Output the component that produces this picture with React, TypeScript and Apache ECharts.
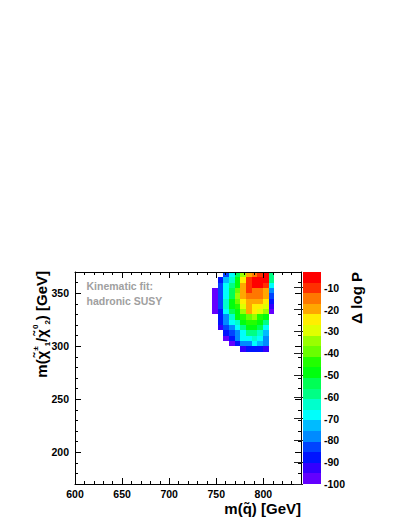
import React, { useEffect, useRef } from 'react';
import * as echarts from 'echarts';

// ---- data ----
const xCenters = [748.5, 754.5, 760.5, 766.5, 772.5, 778.5, 784.5, 790.5, 796.5, 802.5, 808.5];
const yCenters = [367.5, 362.5, 357.5, 352.5, 347.5, 342.5, 337.5, 332.5, 327.5, 322.5, 317.5, 312.5, 307.5, 302.5, 297.5];
const N = null;
const deltaLogP: (number | null)[][] = [
  [N, N, -83, -66, -52, -34, -20, -14, -9, -5, -60],
  [N, -86, -74, -63, -50, -25, -11, -6, -4, -7, -61],
  [N, -84, -69, -60, -47, -20, -10, -6, -5, -11, -68],
  [-97, -82, -66, -54, -40, -19, -12, -13, -15, -18, -77],
  [-96, -83, -67, -52, -35, -19, -15, -16, -17, -20, -84],
  [-97, -84, -64, -50, -40, -24, -18, -19, -20, -25, -87],
  [-97, -85, -64, -49, -44, -30, -21, -24, -25, -28, -92],
  [-98, -86, -70, -55, -48, -33, -22, -26, -31, -36, -97],
  [N, -87, -76, -63, -50, -45, -38, -36, -44, -47, N],
  [N, -90, -79, -68, -62, -49, -46, -45, -48, -60, N],
  [N, -94, -84, -76, -67, -60, -50, -49, -52, -68, N],
  [N, N, -87, -82, -76, -66, -60, -57, -62, -73, N],
  [N, N, -96, -88, -78, -70, -67, -64, -69, -77, N],
  [N, N, N, -96, -88, -80, -76, -70, -72, -80, N],
  [N, N, N, N, N, -95, -90, -88, -89, -94, N],
];

const xMajorTicks = [600, 650, 700, 750, 800];
const yMajorTicks = [200, 250, 300, 350];
const zTicks = [-100, -90, -80, -70, -60, -50, -40, -30, -20, -10];

// palette (ROOT rainbow, 20 contour levels)
const palette = [
  '#6300ff', '#3300ff', '#0014ff', '#0044ff', '#008bff', '#00bbff', '#00fffc', '#00ffcc', '#00ff85', '#00ff55',
  '#00ff0e', '#22ff00', '#69ff00', '#99ff00', '#e0ff00', '#ffee00', '#ffa700', '#ff7700', '#ff3000', '#ff0000',
];
const Z_MIN = -100;
const Z_MAX = -2.8;

const XBIN = 6;
const YBIN = 5;

const FONT = 'Liberation Sans';

export default function App() {
  const ref = useRef<HTMLDivElement>(null);
  useEffect(() => {
    if (!ref.current) return;
    const chart = echarts.init(ref.current, undefined, { renderer: 'svg' });

    const step = (Z_MAX - Z_MIN) / palette.length;
    const bands = palette.map((c, i) => [Z_MIN + i * step, Z_MIN + (i + 1) * step, i]);
    const pieces = bands.map((b, i) => ({
      gte: b[0],
      lt: i === bands.length - 1 ? b[1] + 1 : b[1],
      color: palette[i],
    }));

    const cells: number[][] = [];
    deltaLogP.forEach((row, r) => {
      row.forEach((v, c) => {
        if (v !== null) cells.push([xCenters[c], yCenters[r], v]);
      });
    });

    const tickStyle = { color: '#000', width: 1 };
    const gridRect = { left: 75, top: 272, width: 226, height: 212 };

    const lbl = { fontFamily: FONT, fontWeight: 'bold' as const, fontSize: 10.5, color: '#000' };

    const option: any = {
      animation: false,
      textStyle: { fontFamily: FONT },
      grid: [
        { ...gridRect, show: false },
        { ...gridRect, show: false },
        { left: 303, top: 272, width: 18, height: 212, show: false },
      ],
      xAxis: [
        {
          type: 'value', gridIndex: 0, position: 'bottom', min: 600, max: 840, z: 10,
          axisLine: { show: true, lineStyle: tickStyle },
          axisTick: { show: true, inside: true, length: 6, customValues: xMajorTicks, lineStyle: tickStyle },
          axisLabel: { ...lbl, customValues: xMajorTicks, margin: 4 },
          splitLine: { show: false },
        },
        {
          type: 'value', gridIndex: 0, position: 'top', min: 600, max: 840, z: 10,
          axisLine: { show: true, lineStyle: tickStyle },
          axisTick: { show: true, inside: true, length: 6, customValues: xMajorTicks, lineStyle: tickStyle },
          axisLabel: { show: false },
          splitLine: { show: false },
        },
        {
          type: 'value', gridIndex: 1, position: 'bottom', min: 600, max: 840, interval: 10, z: 10,
          axisLine: { show: false },
          axisTick: { show: true, inside: true, length: 3, lineStyle: tickStyle },
          axisLabel: { show: false },
          splitLine: { show: false },
        },
        {
          type: 'value', gridIndex: 1, position: 'top', min: 600, max: 840, interval: 10, z: 10,
          axisLine: { show: false },
          axisTick: { show: true, inside: true, length: 3, lineStyle: tickStyle },
          axisLabel: { show: false },
          splitLine: { show: false },
        },
        {
          type: 'value', gridIndex: 2, min: 0, max: 1, show: false,
        },
      ],
      yAxis: [
        {
          type: 'value', gridIndex: 0, position: 'left', min: 170, max: 370, z: 10,
          axisLine: { show: true, lineStyle: tickStyle },
          axisTick: { show: true, inside: true, length: 6, customValues: yMajorTicks, lineStyle: tickStyle },
          axisLabel: { ...lbl, customValues: yMajorTicks, margin: 6 },
          splitLine: { show: false },
        },
        {
          type: 'value', gridIndex: 0, position: 'right', min: 170, max: 370, z: 10,
          axisLine: { show: true, lineStyle: tickStyle },
          axisTick: { show: true, inside: true, length: 6, customValues: yMajorTicks, lineStyle: tickStyle },
          axisLabel: { show: false },
          splitLine: { show: false },
        },
        {
          type: 'value', gridIndex: 1, position: 'left', min: 170, max: 370, interval: 10, z: 10,
          axisLine: { show: false },
          axisTick: { show: true, inside: true, length: 3, lineStyle: tickStyle },
          axisLabel: { show: false },
          splitLine: { show: false },
        },
        {
          type: 'value', gridIndex: 1, position: 'right', min: 170, max: 370, interval: 10, z: 10,
          axisLine: { show: false },
          axisTick: { show: true, inside: true, length: 3, lineStyle: tickStyle },
          axisLabel: { show: false },
          splitLine: { show: false },
        },
        {
          type: 'value', gridIndex: 2, position: 'right', min: Z_MIN, max: Z_MAX, z: 10,
          axisLine: { show: false },
          axisTick: { show: true, inside: true, length: 9, customValues: zTicks, lineStyle: { color: '#222', width: 1 } },
          axisLabel: { ...lbl, customValues: zTicks, margin: 3 },
          splitLine: { show: false },
        },
      ],
      visualMap: {
        type: 'piecewise',
        show: false,
        seriesIndex: 0,
        dimension: 2,
        pieces,
      },
      series: [
        {
          type: 'custom',
          xAxisIndex: 0,
          yAxisIndex: 0,
          encode: { x: 0, y: 1 },
          data: cells,
          clip: true,
          renderItem: (params: any, api: any) => {
            const x = api.value(0);
            const y = api.value(1);
            const a = api.coord([x - XBIN / 2, y + YBIN / 2]);
            const b = api.coord([x + XBIN / 2, y - YBIN / 2]);
            const x0 = Math.round(a[0]);
            const y0 = Math.round(a[1]);
            const x1 = Math.round(b[0]);
            const y1 = Math.round(b[1]);
            return {
              type: 'rect',
              shape: { x: x0, y: y0, width: x1 - x0, height: y1 - y0 },
              style: { fill: api.visual('color') },
            };
          },
        },
        {
          type: 'custom',
          xAxisIndex: 4,
          yAxisIndex: 4,
          encode: { x: -1, y: [0, 1] },
          data: bands,
          renderItem: (params: any, api: any) => {
            const lo = api.value(0);
            const hi = api.value(1);
            const idx = api.value(2);
            const a = api.coord([0, hi]);
            const b = api.coord([1, lo]);
            const x0 = Math.round(a[0]);
            const y0 = Math.round(a[1]);
            const x1 = Math.round(b[0]);
            const y1 = Math.round(b[1]);
            return {
              type: 'rect',
              shape: { x: x0, y: y0, width: x1 - x0, height: y1 - y0 },
              style: { fill: palette[idx] },
            };
          },
        },
      ],
      graphic: [
        {
          type: 'text', x: 86.5, y: 286, z: 20,
          style: {
            text: 'Kinematic fit:', fill: '#a0a0a0', font: `bold 10.5px "${FONT}"`,
            align: 'left', verticalAlign: 'middle',
          },
        },
        {
          type: 'text', x: 86.5, y: 301, z: 20,
          style: {
            text: 'hadronic SUSY', fill: '#a0a0a0', font: `bold 10.5px "${FONT}"`,
            align: 'left', verticalAlign: 'middle',
          },
        },
        {
          type: 'text', x: 301, y: 508, z: 20,
          style: {
            text: 'm(q\u0303) [GeV]', fill: '#000', font: `bold 15px "${FONT}"`,
            align: 'right', verticalAlign: 'middle',
          },
        },
        {
          type: 'text', x: 356, y: 272, rotation: Math.PI / 2, z: 20,
          style: {
            text: '\u0394 log P', fill: '#000', font: `bold 15px "${FONT}"`,
            align: 'right', verticalAlign: 'middle',
          },
        },
        {
          type: 'text', x: 41, y: 271, rotation: Math.PI / 2, z: 20,
          style: {
            text: '{n|m(\u03c7\u0303}{u|\u00b1}{d|1}{n|/\u03c7\u0303}{u|0}{d|2}{n|) [GeV]}',
            align: 'right', verticalAlign: 'middle',
            rich: {
              n: { fontFamily: FONT, fontWeight: 'bold', fontSize: 15, fill: '#000', lineHeight: 20 },
              u: { fontFamily: FONT, fontWeight: 'bold', fontSize: 8, fill: '#000', lineHeight: 9, verticalAlign: 'top' },
              d: { fontFamily: FONT, fontWeight: 'bold', fontSize: 8, fill: '#000', lineHeight: 9, verticalAlign: 'bottom' },
            },
          },
        },
      ],
    };

    chart.setOption(option);
    return () => chart.dispose();
  }, []);

  return (
    <div
      ref={ref}
      style={{ position: 'fixed', left: 0, top: 0, width: 407, height: 527, background: '#fff' }}
    />
  );
}
